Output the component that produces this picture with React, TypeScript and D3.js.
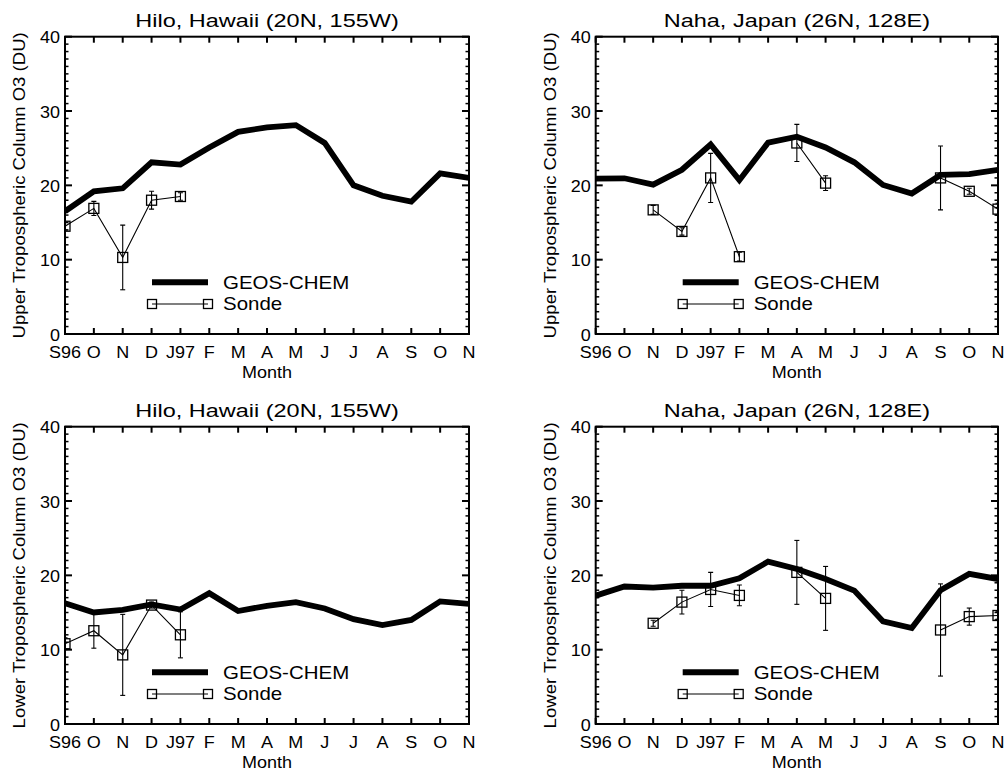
import React from "react";
import * as d3 from "d3";

const months = ["S96", "O", "N", "D", "J97", "F", "M", "A", "M", "J", "J", "A", "S", "O", "N"];
const yTicks = [0, 10, 20, 30, 40];

const hiloUpperModel = [16.5, 19.2, 19.6, 23.1, 22.8, 25.1, 27.2, 27.8, 28.1, 25.7, 20.0, 18.6, 17.8, 21.6, 21.0];
const hiloUpperSonde = [14.5, 16.9, 10.3, 18.0, 18.5, null, null, null, null, null, null, null, null, null, null];
const hiloUpperErr = [0.5, 0.95, 4.35, 1.2, 0.5, null, null, null, null, null, null, null, null, null, null];

const nahaUpperModel = [20.9, 20.95, 20.1, 22.1, 25.5, 20.7, 25.75, 26.55, 25.1, 23.1, 20.05, 18.9, 21.4, 21.5, 22.1];
const nahaUpperSonde = [null, null, 16.7, 13.8, 21.0, 10.4, null, 25.7, 20.3, null, null, null, 21.0, 19.2, 16.8];
const nahaUpperErr = [null, null, 0.6, 0.5, 3.3, 0.6, null, 2.5, 1.0, null, null, null, 4.3, 0.4, 0.8];

const hiloLowerModel = [16.25, 15.0, 15.35, 16.1, 15.4, 17.6, 15.2, 15.9, 16.4, 15.55, 14.1, 13.3, 14.0, 16.5, 16.15];
const hiloLowerSonde = [10.8, 12.55, 9.3, 16.0, 12.0, null, null, null, null, null, null, null, null, null, null];
const hiloLowerErr = [0.8, 2.35, 5.45, 0.4, 3.1, null, null, null, null, null, null, null, null, null, null];

const nahaLowerModel = [17.27, 18.5, 18.35, 18.6, 18.6, 19.6, 21.85, 20.85, 19.5, 17.95, 13.8, 12.9, 18.0, 20.2, 19.5];
const nahaLowerSonde = [null, null, 13.55, 16.4, 18.1, 17.3, null, 20.4, 16.9, null, null, null, 12.65, 14.45, 14.6];
const nahaLowerErr = [null, null, 0.4, 1.6, 2.3, 1.4, null, 4.3, 4.3, null, null, null, 6.2, 1.15, 0.5];

const FONT = "'Liberation Sans', Arial, Helvetica, sans-serif";

type TProps = {
  x: number;
  y: number;
  size: number;
  sx: number;
  anchor?: "start" | "middle" | "end";
  rotate?: number;
  children: React.ReactNode;
};

function T({ x, y, size, sx, anchor = "start", rotate = 0, children }: TProps) {
  return (
    <text
      transform={`translate(${x},${y}) rotate(${rotate}) scale(${sx},1)`}
      textAnchor={anchor}
      fontSize={size}
      fontFamily={FONT}
      fill="#000"
    >
      {children}
    </text>
  );
}

type PanelProps = {
  id: string;
  left: number;
  top: number;
  width: number;
  height: number;
  title: string;
  ylabel: string;
  model: number[];
  sonde: (number | null)[];
  err: (number | null)[];
};

function Panel({ id, left, top, width, height, title, ylabel, model, sonde, err }: PanelProps) {
  const x = d3.scaleLinear().domain([0, months.length - 1]).range([left, left + width]);
  const y = d3.scaleLinear().domain([0, 40]).range([top + height, top]);
  const bottom = top + height;
  const right = left + width;

  const modelLine = d3
    .line<number>()
    .x((_, i) => x(i))
    .y((d) => y(d));
  const sondeLine = d3
    .line<number | null>()
    .defined((d) => d !== null)
    .x((_, i) => x(i))
    .y((d) => y(d as number));

  const minor = d3.range(0, 41, 1);
  const sq = 10;
  const legX0 = left + 87;
  const legX1 = left + 143;
  const legY1 = top + 245.6;
  const legY2 = top + 267.3;

  return (
    <g>
      <defs>
        <clipPath id={id}>
          <rect x={left} y={top} width={width} height={height} />
        </clipPath>
      </defs>
      <T x={(left + right) / 2} y={top - 9.4} size={18.5} sx={1.27} anchor="middle">
        {title}
      </T>
      <T x={left - 40} y={top + height / 2} size={16} sx={1.16} anchor="middle" rotate={-90}>
        {ylabel}
      </T>
      <g clipPath={`url(#${id})`}>
        <path d={modelLine(model) || ""} fill="none" stroke="#000" strokeWidth={5.8} strokeLinejoin="miter" />
        <path d={sondeLine(sonde) || ""} fill="none" stroke="#000" strokeWidth={1.1} />
        {sonde.map((v, i) =>
          v === null ? null : (
            <g key={i}>
              {err[i] !== null && (err[i] as number) > 0 ? (
                <g stroke="#000" strokeWidth={1.1}>
                  <line x1={x(i)} x2={x(i)} y1={y(v + (err[i] as number))} y2={y(v - (err[i] as number))} />
                  <line x1={x(i) - 2.5} x2={x(i) + 2.5} y1={y(v + (err[i] as number))} y2={y(v + (err[i] as number))} />
                  <line x1={x(i) - 2.5} x2={x(i) + 2.5} y1={y(v - (err[i] as number))} y2={y(v - (err[i] as number))} />
                </g>
              ) : null}
              <rect x={x(i) - sq / 2} y={y(v) - sq / 2} width={sq} height={sq} fill="none" stroke="#000" strokeWidth={1.3} />
            </g>
          )
        )}
      </g>
      <rect x={left} y={top} width={width} height={height} fill="none" stroke="#000" strokeWidth={2} />
      {months.map((m, i) => (
        <g key={"m" + i}>
          <line x1={x(i)} x2={x(i)} y1={bottom} y2={bottom - 6} stroke="#000" strokeWidth={2} />
          <line x1={x(i)} x2={x(i)} y1={top} y2={top + 6} stroke="#000" strokeWidth={2} />
          <T x={x(i)} y={bottom + 23.7} size={17} sx={1.06} anchor="middle">
            {m}
          </T>
        </g>
      ))}
      {minor.map((v) => {
        const major = v % 10 === 0;
        const len = major ? 7 : 3.5;
        return (
          <g key={"y" + v}>
            <line x1={left} x2={left + len} y1={y(v)} y2={y(v)} stroke="#000" strokeWidth={major ? 2 : 1.5} />
            <line x1={right} x2={right - len} y1={y(v)} y2={y(v)} stroke="#000" strokeWidth={major ? 2 : 1.5} />
          </g>
        );
      })}
      {yTicks.map((v) => (
        <T key={"yl" + v} x={left - 5} y={y(v) + 6.5} size={17} sx={1.06} anchor="end">
          {v}
        </T>
      ))}
      <T x={(left + right) / 2} y={bottom + 43.5} size={17} sx={1.06} anchor="middle">
        Month
      </T>
      <line x1={legX0} x2={legX1} y1={legY1} y2={legY1} stroke="#000" strokeWidth={6} />
      <T x={legX1 + 15} y={legY1 + 6.3} size={17.5} sx={1.17}>
        GEOS-CHEM
      </T>
      <line x1={legX0} x2={legX1} y1={legY2} y2={legY2} stroke="#000" strokeWidth={1.1} />
      <rect x={legX0 - 4.5} y={legY2 - 4.5} width={9} height={9} fill="none" stroke="#000" strokeWidth={1.3} />
      <rect x={legX1 - 4.5} y={legY2 - 4.5} width={9} height={9} fill="none" stroke="#000" strokeWidth={1.3} />
      <T x={legX1 + 15} y={legY2 + 6.3} size={17.5} sx={1.17}>
        Sonde
      </T>
    </g>
  );
}

export default function App() {
  const W = 1005;
  const H = 770;
  const ph = 297.3;
  return (
    <svg
      width={W}
      height={H}
      viewBox={`0 0 ${W} ${H}`}
      style={{ position: "absolute", left: 0, top: 0, background: "#fff" }}
    >
      <rect width={W} height={H} fill="#fff" />
      <Panel id="c1" left={65} top={36.7} width={404} height={ph} title="Hilo, Hawaii (20N, 155W)"
        ylabel="Upper Tropospheric Column O3 (DU)" model={hiloUpperModel} sonde={hiloUpperSonde} err={hiloUpperErr} />
      <Panel id="c2" left={595.7} top={36.7} width={402.3} height={ph} title="Naha, Japan (26N, 128E)"
        ylabel="Upper Tropospheric Column O3 (DU)" model={nahaUpperModel} sonde={nahaUpperSonde} err={nahaUpperErr} />
      <Panel id="c3" left={65} top={426.7} width={404} height={ph} title="Hilo, Hawaii (20N, 155W)"
        ylabel="Lower Tropospheric Column O3 (DU)" model={hiloLowerModel} sonde={hiloLowerSonde} err={hiloLowerErr} />
      <Panel id="c4" left={595.7} top={426.7} width={402.3} height={ph} title="Naha, Japan (26N, 128E)"
        ylabel="Lower Tropospheric Column O3 (DU)" model={nahaLowerModel} sonde={nahaLowerSonde} err={nahaLowerErr} />
    </svg>
  );
}
